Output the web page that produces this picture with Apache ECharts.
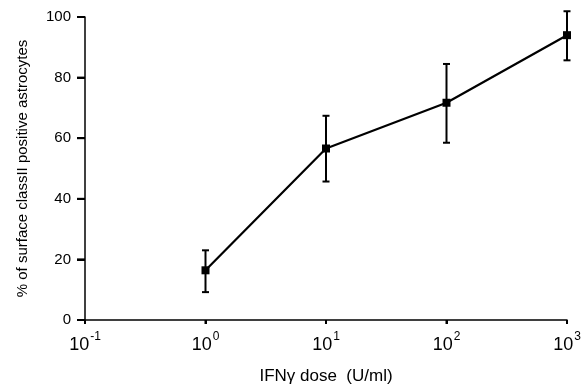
<!DOCTYPE html>
<html><head><meta charset="utf-8">
<script src="https://cdn.jsdelivr.net/npm/echarts@6/dist/echarts.min.js"></script>
<style>html,body{margin:0;padding:0;background:#fff}#c{width:581px;height:389px}</style>
</head><body><div id="c"></div>
<script>
const doses = [1, 10, 100, 1000];
const means = [16.4, 56.6, 71.7, 94.0];
const errLow = [9.2, 45.7, 58.5, 85.7];
const errHigh = [23.0, 67.4, 84.5, 101.9];
const yTicks = [0, 20, 40, 60, 80, 100];
const xTickExps = [-1, 0, 1, 2, 3];

const FONT = '"Liberation Sans", Arial, sans-serif';
const chart = echarts.init(document.getElementById('c'), null, {renderer: 'canvas'});
const errData = doses.map((d, i) => [d, errLow[i], errHigh[i]]);
const option = {
  animation: false,
  grid: {left: 85, right: 14, top: 17, bottom: 69, containLabel: false, outerBoundsMode: 'none'},
  xAxis: {
    type: 'log', logBase: 10, min: 0.1, max: 1000,
    axisLine: {onZero: false, lineStyle: {color: '#000', width: 1.5}},
    axisTick: {show: true, length: 4, lineStyle: {color: '#000', width: 2}},
    splitLine: {show: false},
    minorTick: {show: false},
    axisLabel: {
      margin: 11, color: '#000',
      formatter: function (v) {
        const e = Math.round(Math.log10(v));
        return '{b|10}{s|' + e + '}';
      },
      rich: {
        b: {fontSize: 18, fontFamily: FONT, color: '#000', verticalAlign: 'bottom', padding: [5, 0, 0, 0]},
        s: {fontSize: 12, fontFamily: FONT, color: '#000', verticalAlign: 'top', padding: [0, 0, 8, 1]}
      }
    },
    name: 'IFNγ dose  (U/ml)', nameLocation: 'middle', nameGap: 48,
    nameTextStyle: {fontSize: 17, fontFamily: FONT, color: '#000'}
  },
  yAxis: {
    type: 'value', min: 0, max: 100, interval: 20,
    axisLine: {show: true, onZero: false, lineStyle: {color: '#000', width: 1.5}},
    axisTick: {show: true, length: 8, lineStyle: {color: '#000', width: 2}},
    splitLine: {show: false},
    axisLabel: {margin: 14, fontSize: 15, fontFamily: FONT, color: '#000'},
    name: '% of surface classII positive astrocytes', nameLocation: 'middle', nameGap: 55,
    nameTextStyle: {fontSize: 15, fontFamily: FONT, color: '#000'}
  },
  series: [
    {
      type: 'custom',
      data: errData,
      renderItem: function (params, api) {
        const x = api.value(0);
        const lo = api.coord([x, api.value(1)]);
        const hi = api.coord([x, api.value(2)]);
        const w = 3.5;
        const st = {stroke: '#000', lineWidth: 2};
        return {
          type: 'group',
          children: [
            {type: 'line', shape: {x1: lo[0], y1: lo[1], x2: hi[0], y2: hi[1]}, style: st},
            {type: 'line', shape: {x1: lo[0] - w, y1: lo[1], x2: lo[0] + w, y2: lo[1]}, style: st},
            {type: 'line', shape: {x1: hi[0] - w, y1: hi[1], x2: hi[0] + w, y2: hi[1]}, style: st}
          ]
        };
      },
      z: 2
    },
    {
      type: 'line',
      data: doses.map((d, i) => [d, means[i]]),
      symbol: 'rect', symbolSize: 8,
      lineStyle: {color: '#000', width: 2.2},
      itemStyle: {color: '#000'},
      z: 3
    }
  ]
};
chart.setOption(option);

// Tick marks placed through the library's own coordinate conversion
const xMin = Math.pow(10, xTickExps[0]);
const g = [];
yTicks.forEach(function (v) {
  const p = chart.convertToPixel({gridIndex: 0}, [xMin, v]);
  g.push({type: 'rect', shape: {x: p[0] - 8, y: p[1] - 1, width: 8, height: 2}, style: {fill: '#000'}, z: 100});
});
xTickExps.forEach(function (e) {
  const p = chart.convertToPixel({gridIndex: 0}, [Math.pow(10, e), yTicks[0]]);
  g.push({type: 'rect', shape: {x: p[0] - 1, y: p[1], width: 2, height: 4}, style: {fill: '#000'}, z: 100});
});
chart.setOption({graphic: g});
</script></body></html>
